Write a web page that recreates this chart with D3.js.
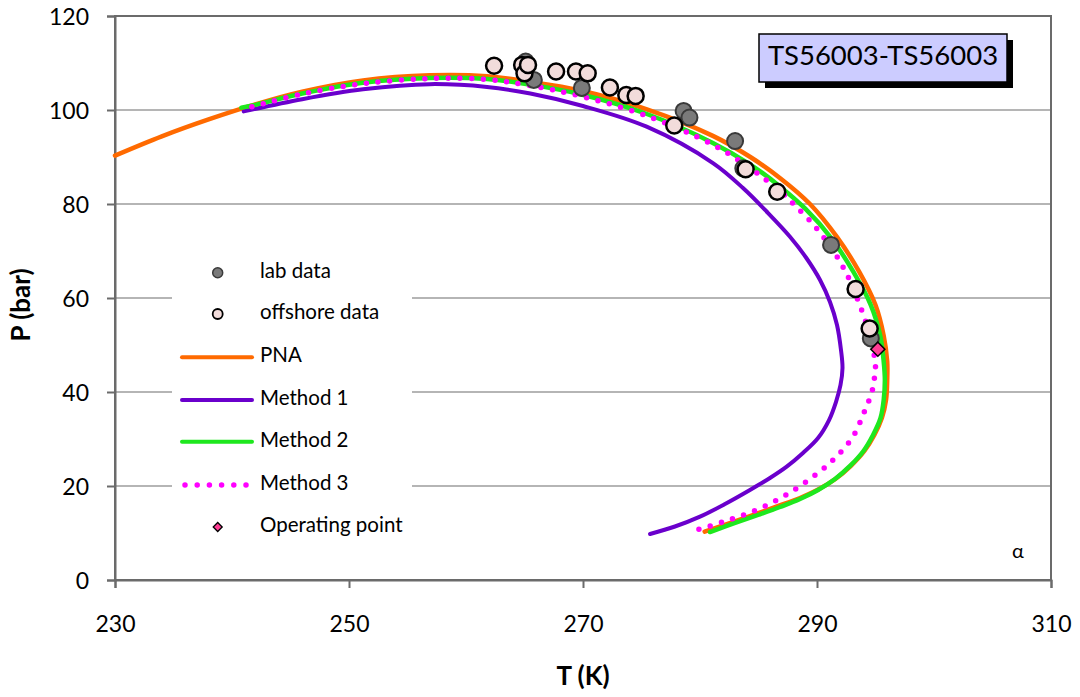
<!DOCTYPE html>
<html>
<head>
<meta charset="utf-8">
<script src="https://cdn.jsdelivr.net/npm/d3@7"></script>
<style>
  body { margin: 0; background: #fff; }
  svg text { font-family: Lato, "Open Sans", sans-serif; fill: #000; }
</style>
</head>
<body>
<svg id="chart" width="1080" height="697"></svg>
<script>
// ---- data ----
const xTicks = [230, 250, 270, 290, 310];
const yTicks = [0, 20, 40, 60, 80, 100, 120];

const pnaT = [230, 234, 238, 242, 246, 251.2, 256.9, 261.8, 265.5, 269.7, 275.4, 281.1, 284.3, 286.8, 289.4, 291.7, 293.6, 295.0, 295.7, 296.0, 296.0, 295.9, 295.55, 294.9, 294.05, 292.9, 291.6, 290.1, 288.5, 286.7, 284.8, 282.8, 280.4];
const pnaP = [90.3, 94.4, 98.0, 101.2, 103.9, 106.3, 107.4, 107.2, 106.0, 104.2, 100.2, 94.5, 90.0, 85.6, 80.0, 73.0, 65.6, 58.5, 52.0, 46.5, 42.5, 38.3, 34.5, 30.85, 27.45, 24.3, 21.55, 19.25, 17.4, 15.75, 14.05, 12.3, 10.3];

const m1T = [241.0, 246, 251.2, 256.9, 261.8, 265.5, 270.0, 275.44, 281.14, 283.70, 285.73, 287.69, 289.06, 290.26, 291.11, 291.71, 292.05, 292.18, 292.01, 291.62, 291.03, 290.09, 288.80, 287.41, 285.98, 284.27, 282.14, 280.0, 277.86, 275.73];
const m1P = [99.7, 102.3, 104.4, 105.5, 104.9, 103.5, 100.85, 96.45, 88.66, 83.34, 78.30, 73.04, 68.62, 63.83, 59.15, 54.26, 48.94, 45.11, 41.49, 37.87, 34.04, 30.21, 27.02, 24.11, 21.70, 19.15, 16.17, 13.47, 11.38, 9.79];

const m2T = [240.8, 242, 246, 251.2, 256.9, 261.8, 265.5, 269.7, 275.4, 281.1, 284.3, 286.8, 289.0, 291.2, 293.1, 294.6, 295.4, 295.7, 295.8, 295.7, 295.43, 294.79, 293.97, 292.82, 291.54, 290.09, 288.55, 286.84, 284.96, 283.0, 280.85];
const m2P = [100.5, 101.1, 103.5, 105.8, 106.8, 106.6, 105.4, 103.4, 99.2, 93.0, 88.4, 83.8, 79.0, 72.8, 65.6, 58.5, 52.0, 46.5, 42.5, 38.3, 34.47, 30.85, 27.45, 24.26, 21.49, 19.15, 17.23, 15.53, 13.83, 12.13, 10.21];

const m3T = [241.7, 246, 251.2, 256.9, 261.8, 265.5, 269.7, 275.4, 281.1, 284.3, 286.8, 288.0, 289.8, 291.4, 292.6, 293.5, 294.3, 294.8, 295.0, 294.9, 294.7, 294.0, 293.1, 291.8, 290.3, 287.7, 285.0, 282.0, 279.0];
const m3P = [100.7, 103.4, 105.6, 106.7, 106.5, 105.2, 103.0, 98.8, 92.6, 87.6, 82.8, 80.0, 75.3, 70.0, 64.8, 59.5, 53.9, 49.0, 45.4, 42.8, 40.1, 35.5, 30.6, 26.6, 23.2, 18.6, 15.1, 12.4, 10.1];

const labT = [265.1, 265.8, 269.9, 278.6, 279.1, 283.0, 283.7, 291.2, 294.6];
const labP = [110.3, 106.4, 104.7, 99.8, 98.4, 93.4, 87.6, 71.3, 51.4];

const offT = [262.4, 264.8, 265.0, 265.3, 267.7, 269.4, 270.4, 272.3, 273.7, 274.5, 277.8, 283.9, 286.6, 293.3, 294.5];
const offP = [109.4, 109.6, 107.8, 109.6, 108.2, 108.2, 107.8, 104.8, 103.2, 103.0, 96.7, 87.4, 82.6, 61.9, 53.5];

const opT = [295.2];
const opP = [49.1];

const legendLabels = ["lab data", "offshore data", "PNA", "Method 1", "Method 2", "Method 3", "Operating point"];
const boxLabel = "TS56003-TS56003";

// ---- chart ----
const svg = d3.select("#chart");
const x = d3.scaleLinear().domain([230, 310]).range([115, 1051]);
const y = d3.scaleLinear().domain([0, 120]).range([580, 16]);
const axisColor = "#6b6b6b";

// gridlines
svg.append("g").selectAll("line").data(yTicks.filter(v => v > 0 && v < 120)).join("line")
  .attr("x1", x(230)).attr("x2", x(310))
  .attr("y1", d => y(d)).attr("y2", d => y(d))
  .attr("stroke", "#b5b5b5").attr("stroke-width", 2);

// frame
svg.append("rect").attr("x", x(230)).attr("y", y(120))
  .attr("width", x(310) - x(230)).attr("height", y(0) - y(120))
  .attr("fill", "none").attr("stroke", axisColor).attr("stroke-width", 2);

// axes
const yAxis = svg.append("g").attr("transform", `translate(${x(230)},0)`)
  .call(d3.axisLeft(y).tickValues(yTicks).tickSize(8).tickPadding(18));
const xAxis = svg.append("g").attr("transform", `translate(0,${y(0)})`)
  .call(d3.axisBottom(x).tickValues(xTicks).tickSize(8));
[yAxis, xAxis].forEach(g => {
  g.select(".domain").attr("stroke", axisColor).attr("stroke-width", 2);
  g.selectAll(".tick line").attr("stroke", axisColor).attr("stroke-width", 2);
  g.selectAll("text").attr("font-size", 23).attr("font-family", "Lato, sans-serif");
});
yAxis.selectAll("text").attr("dy", "0.35em");
xAxis.selectAll("text").attr("y", 44).attr("dy", "0.35em");

// axis titles
svg.append("text").attr("x", 583).attr("y", 678).attr("text-anchor", "middle")
  .attr("dominant-baseline", "middle").attr("font-size", 26).attr("font-weight", "bold").text("T (K)");
svg.append("text").attr("transform", "translate(23,305) rotate(-90)").attr("text-anchor", "middle")
  .attr("dominant-baseline", "middle").attr("font-size", 26).attr("font-weight", "bold").text("P (bar)");

// curves
const line = d3.line().x(d => x(d[0])).y(d => y(d[1])).curve(d3.curveCatmullRom.alpha(0.5));
const zip = (a, b) => a.map((v, i) => [v, b[i]]);

svg.append("path").datum(zip(pnaT, pnaP)).attr("d", line)
  .attr("fill", "none").attr("stroke", "#ff6a00").attr("stroke-width", 4.5).attr("stroke-linecap", "round");
svg.append("path").datum(zip(m1T, m1P)).attr("d", line)
  .attr("fill", "none").attr("stroke", "#6a00cc").attr("stroke-width", 4).attr("stroke-linecap", "round");
svg.append("path").datum(zip(m2T, m2P)).attr("d", line)
  .attr("fill", "none").attr("stroke", "#1ee81e").attr("stroke-width", 4.5).attr("stroke-linecap", "round");
svg.append("path").datum(zip(m3T, m3P)).attr("d", line)
  .attr("fill", "none").attr("stroke", "#ff00ff").attr("stroke-width", 5.5)
  .attr("stroke-linecap", "round").attr("stroke-dasharray", "0 11.7");

// markers
svg.append("g").selectAll("circle").data(zip(labT, labP)).join("circle")
  .attr("cx", d => x(d[0])).attr("cy", d => y(d[1])).attr("r", 8)
  .attr("fill", "#7a7a7a").attr("stroke", "#3a3a3a").attr("stroke-width", 2);
svg.append("g").selectAll("circle").data(zip(offT, offP)).join("circle")
  .attr("cx", d => x(d[0])).attr("cy", d => y(d[1])).attr("r", 8)
  .attr("fill", "#f2dcdb").attr("stroke", "#000").attr("stroke-width", 2.5);
const diamond = d3.symbol().type(d3.symbolSquare).size(100);
svg.append("g").selectAll("path").data(zip(opT, opP)).join("path")
  .attr("d", diamond)
  .attr("transform", d => `translate(${x(d[0])},${y(d[1])}) rotate(45)`)
  .attr("fill", "#ff3d94").attr("stroke", "#000").attr("stroke-width", 1.5);

// legend
const lg = svg.append("g");
lg.append("rect").attr("x", 172).attr("y", 252).attr("width", 240).attr("height", 294).attr("fill", "#fff");
const rowY = [272.7, 314, 357.3, 400, 441.7, 485, 527];
lg.selectAll("text").data(legendLabels).join("text")
  .attr("x", 260).attr("y", (d, i) => rowY[i]).attr("dominant-baseline", "middle")
  .attr("font-size", 20.5).text(d => d);
lg.append("circle").attr("cx", 217.7).attr("cy", rowY[0]).attr("r", 5)
  .attr("fill", "#7a7a7a").attr("stroke", "#3a3a3a").attr("stroke-width", 1.5);
lg.append("circle").attr("cx", 217.7).attr("cy", rowY[1]).attr("r", 5)
  .attr("fill", "#f2dcdb").attr("stroke", "#000").attr("stroke-width", 1.8);
const legLines = [["#ff6a00", 2, null], ["#6a00cc", 3, null], ["#1ee81e", 4, null], ["#ff00ff", 5, "0 12.2"]];
legLines.forEach(([c, i, dash]) => {
  const l = lg.append("line").attr("x1", dash ? 185 : 182).attr("x2", dash ? 246 : 252)
    .attr("y1", rowY[i]).attr("y2", rowY[i]).attr("stroke", c)
    .attr("stroke-width", dash ? 5.5 : 4).attr("stroke-linecap", "round");
  if (dash) l.attr("stroke-dasharray", dash);
});
lg.append("path").attr("d", d3.symbol().type(d3.symbolSquare).size(40))
  .attr("transform", `translate(217.7,${rowY[6]}) rotate(45)`)
  .attr("fill", "#ff3d94").attr("stroke", "#000").attr("stroke-width", 1.3);

// label box
svg.append("rect").attr("x", 765).attr("y", 40).attr("width", 248).attr("height", 48).attr("fill", "#000");
svg.append("rect").attr("x", 759).attr("y", 34).attr("width", 248).attr("height", 48)
  .attr("fill", "#ccccff").attr("stroke", "#000").attr("stroke-width", 1.5);
svg.append("text").attr("x", 883).attr("y", 58).attr("text-anchor", "middle")
  .attr("dominant-baseline", "middle").attr("font-size", 27.5).text(boxLabel);

// alpha
svg.append("text").attr("x", 1018).attr("y", 553).attr("text-anchor", "middle")
  .attr("dominant-baseline", "middle").attr("font-size", 20).text("α");
</script>
</body>
</html>
